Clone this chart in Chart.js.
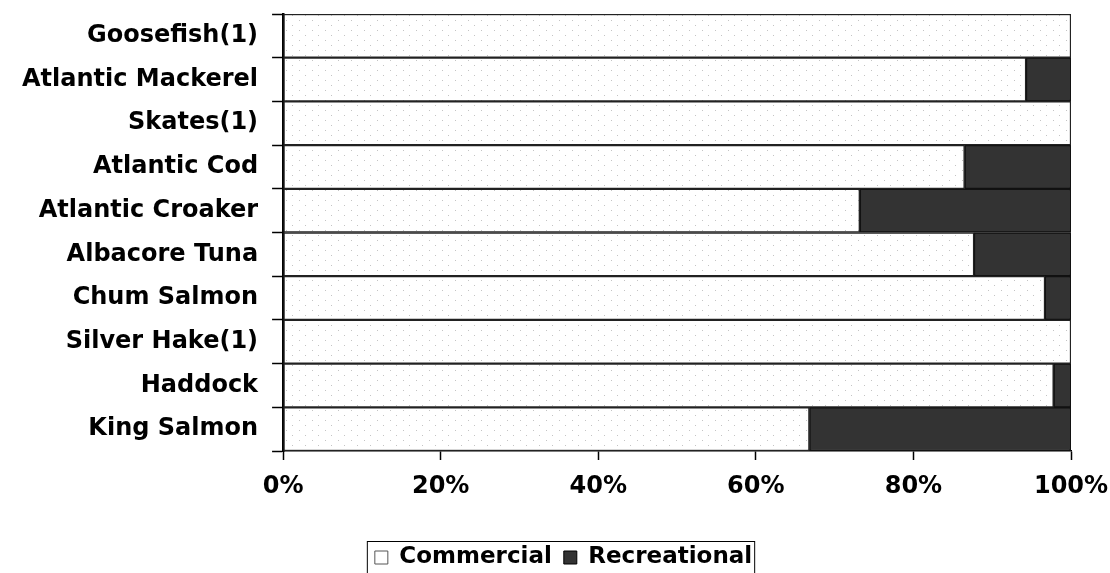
<!DOCTYPE html>
<html>
<head>
<meta charset="utf-8">
<script src="https://cdn.jsdelivr.net/npm/chart.js@4"></script>
<style>
  html, body { margin: 0; padding: 0; background: #fff; }
  #wrap { width: 1110px; height: 573px; }
</style>
</head>
<body>
<div id="wrap"><canvas id="barChart" width="1110" height="573"></canvas></div>
<script>
// species, top to bottom
const species = [
  'Goosefish(1)', 'Atlantic Mackerel', 'Skates(1)', 'Atlantic Cod', 'Atlantic Croaker',
  'Albacore Tuna', 'Chum Salmon', 'Silver Hake(1)', 'Haddock', 'King Salmon'
];
// share of landings, percent
const commercial = [100, 94.3, 100, 86.5, 73.2, 87.7, 96.7, 100, 97.8, 66.8];
const recreational = [0, 5.7, 0, 13.5, 26.8, 12.3, 3.3, 0, 2.2, 33.2];
const xTicks = [0, 20, 40, 60, 80, 100];

const labelFont = 'DejaVu Sans';
const legendShift = 24;

// dotted fill used by the commercial bars
function dotPattern() {
  const c = document.createElement('canvas');
  c.width = 13;
  c.height = 10;
  const g = c.getContext('2d');
  g.fillStyle = '#fff';
  g.fillRect(0, 0, 13, 10);
  g.fillStyle = '#c4c4c4';
  g.fillRect(0, 0, 1, 1);
  g.fillRect(6, 5, 1, 1);
  return g.createPattern(c, 'repeat');
}

// nudge the legend right and draw a box around it
const legendFrame = {
  id: 'legendFrame',
  afterLayout(chart) {
    chart.legend.left += legendShift;
    chart.legend.right += legendShift;
  },
  afterDraw(chart) {
    const boxes = chart.legend.legendHitBoxes;
    if (!boxes || !boxes.length) return;
    const left = Math.min(...boxes.map(b => b.left)) - 8;
    const right = Math.max(...boxes.map(b => b.left + b.width)) + 2;
    const top = Math.min(...boxes.map(b => b.top)) - 5;
    const bottom = Math.max(...boxes.map(b => b.top + b.height)) + 6;
    const ctx = chart.ctx;
    ctx.save();
    ctx.strokeStyle = '#000';
    ctx.lineWidth = 1;
    ctx.strokeRect(left + 0.5, top + 0.5, right - left, bottom - top);
    ctx.restore();
  }
};

const ctx = document.getElementById('barChart').getContext('2d');
const barChart = new Chart(ctx, {
  type: 'bar',
  data: {
    labels: species,
    datasets: [
      {
        label: 'Commercial',
        data: commercial,
        backgroundColor: dotPattern(),
        borderColor: '#222',
        borderWidth: 1.5,
        borderSkipped: false
      },
      {
        label: 'Recreational',
        data: recreational,
        backgroundColor: '#333333',
        borderColor: '#111',
        borderWidth: 1.5,
        borderSkipped: false
      }
    ]
  },
  options: {
    indexAxis: 'y',
    responsive: false,
    animation: false,
    devicePixelRatio: 1,
    layout: { padding: { top: 14, right: 39, bottom: -6, left: 8 } },
    datasets: {
      bar: { barPercentage: 1, categoryPercentage: 1 }
    },
    scales: {
      x: {
        stacked: true,
        min: 0,
        max: 100,
        afterBuildTicks: axis => { axis.ticks = xTicks.map(v => ({ value: v })); },
        // extra room below the tick labels, before the legend
        afterFit: axis => {
          axis.height = 83;
          axis.paddingLeft = 0;
          axis.paddingRight = 0;
        },
        border: { color: '#000', width: 1.5 },
        grid: { drawOnChartArea: false, tickLength: 9, color: '#000', tickWidth: 1.5 },
        ticks: {
          color: '#000',
          padding: 12,
          font: { family: labelFont, size: 24, weight: 'bold' },
          callback: v => v + '%'
        }
      },
      y: {
        stacked: true,
        afterFit: axis => {
          axis.paddingTop = 0;
          axis.paddingBottom = 0;
        },
        border: { color: '#000', width: 2.5 },
        grid: { drawOnChartArea: false, offset: true, tickLength: 11, color: '#000', tickWidth: 1.5 },
        ticks: {
          color: '#000',
          padding: 14,
          font: { family: labelFont, size: 24, weight: 'bold' }
        }
      }
    },
    plugins: {
      tooltip: { enabled: false },
      legend: {
        position: 'bottom',
        labels: {
          color: '#000',
          boxWidth: 13,
          boxHeight: 13,
          padding: 12,
          font: { family: labelFont, size: 23, weight: 'bold' },
          generateLabels: chart => chart.data.datasets.map((ds, i) => ({
            text: ds.label,
            fillStyle: i === 0 ? '#ffffff' : '#333333',
            strokeStyle: i === 0 ? '#555' : '#000',
            lineWidth: 1,
            fontColor: '#000',
            datasetIndex: i
          }))
        }
      }
    }
  },
  plugins: [legendFrame]
});
</script>
</body>
</html>
